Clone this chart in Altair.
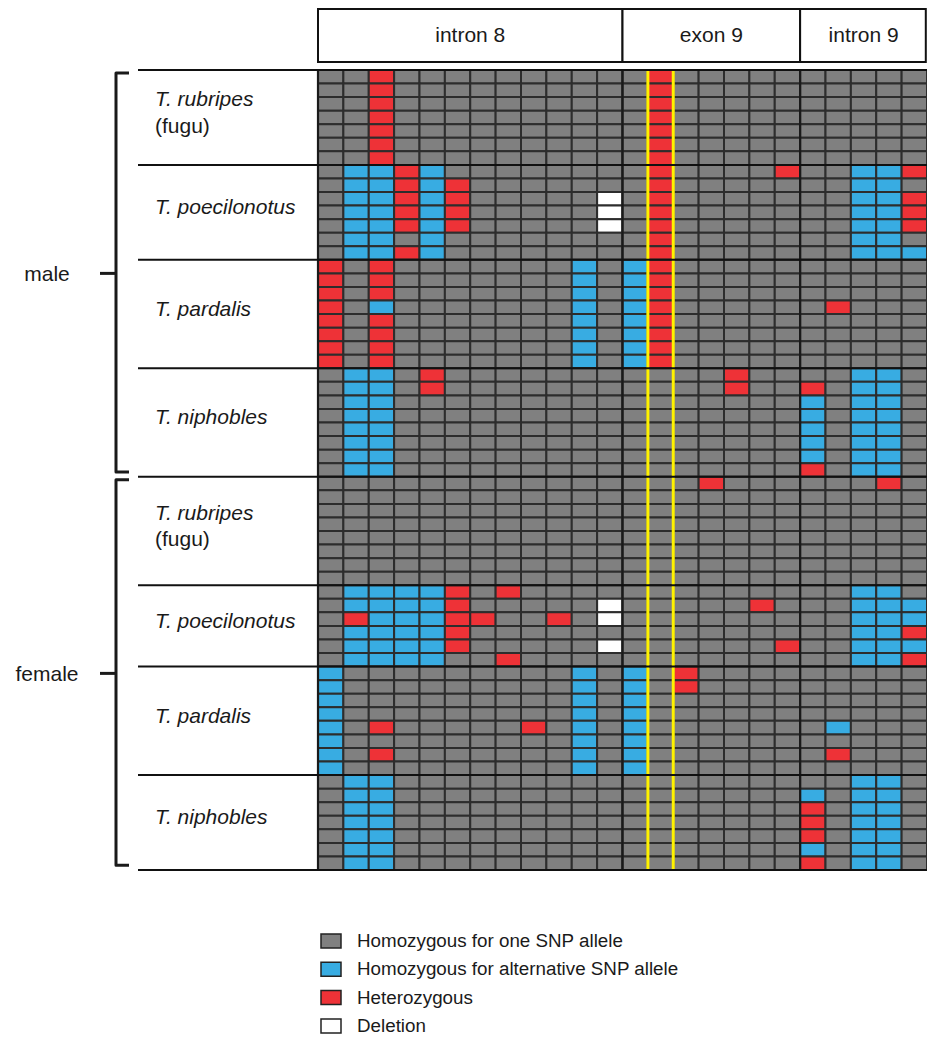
import altair as alt
import pandas as pd

# ------------------------------------------------------------------ data
STATE_CODES = ["G", "B", "R", "W"]
STATE_NAMES = [
    "Homozygous for one SNP allele",
    "Homozygous for alternative SNP allele",
    "Heterozygous",
    "Deletion",
]
STATE_COLORS = ["#808080", "#38ACE2", "#EE3237", "#FFFFFF"]

REGIONS = ["intron 8", "exon 9", "intron 9"]
REGION_NCOLS = [12, 7, 5]
HIGHLIGHT_COL = 14  # 1-based SNP column framed in yellow

SEXES = ["male", "female"]
SPECIES = ["T. rubripes", "T. poecilonotus", "T. pardalis", "T. niphobles"]
SPECIES_NOTE = ["(fugu)", "", "", ""]

# one string per individual: intron 8 | exon 9 | intron 9
male_rubripes = ["GGRGGGGGGGGG|GRGGGGG|GGGGG"] * 7
male_poecilonotus = [
    "GBBRBGGGGGGG|GRGGGGR|GGBBR",
    "GBBRBRGGGGGG|GRGGGGG|GGBBG",
    "GBBRBRGGGGGW|GRGGGGG|GGBBR",
    "GBBRBRGGGGGW|GRGGGGG|GGBBR",
    "GBBRBRGGGGGW|GRGGGGG|GGBBR",
    "GBBGBGGGGGGG|GRGGGGG|GGBBG",
    "GBBRBGGGGGGG|GRGGGGG|GGBBB",
]
male_pardalis = [
    "RGRGGGGGGGBG|BRGGGGG|GGGGG",
    "RGRGGGGGGGBG|BRGGGGG|GGGGG",
    "RGRGGGGGGGBG|BRGGGGG|GGGGG",
    "RGBGGGGGGGBG|BRGGGGG|GRGGG",
    "RGRGGGGGGGBG|BRGGGGG|GGGGG",
    "RGRGGGGGGGBG|BRGGGGG|GGGGG",
    "RGRGGGGGGGBG|BRGGGGG|GGGGG",
    "RGRGGGGGGGBG|BRGGGGG|GGGGG",
]
male_niphobles = [
    "GBBGRGGGGGGG|GGGGRGG|GGBBG",
    "GBBGRGGGGGGG|GGGGRGG|RGBBG",
    "GBBGGGGGGGGG|GGGGGGG|BGBBG",
    "GBBGGGGGGGGG|GGGGGGG|BGBBG",
    "GBBGGGGGGGGG|GGGGGGG|BGBBG",
    "GBBGGGGGGGGG|GGGGGGG|BGBBG",
    "GBBGGGGGGGGG|GGGGGGG|BGBBG",
    "GBBGGGGGGGGG|GGGGGGG|RGBBG",
]
female_rubripes = ["GGGGGGGGGGGG|GGGRGGG|GGGRG"] + ["GGGGGGGGGGGG|GGGGGGG|GGGGG"] * 7
female_poecilonotus = [
    "GBBBBRGRGGGG|GGGGGGG|GGBBG",
    "GBBBBRGGGGGW|GGGGGRG|GGBBB",
    "GRBBBRRGGRGW|GGGGGGG|GGBBB",
    "GBBBBRGGGGGG|GGGGGGG|GGBBR",
    "GBBBBRGGGGGW|GGGGGGR|GGBBB",
    "GBBBBGGRGGGG|GGGGGGG|GGBBR",
]
female_pardalis = [
    "BGGGGGGGGGBG|BGRGGGG|GGGGG",
    "BGGGGGGGGGBG|BGRGGGG|GGGGG",
    "BGGGGGGGGGBG|BGGGGGG|GGGGG",
    "BGGGGGGGGGBG|BGGGGGG|GGGGG",
    "BGRGGGGGRGBG|BGGGGGG|GBGGG",
    "BGGGGGGGGGBG|BGGGGGG|GGGGG",
    "BGRGGGGGGGBG|BGGGGGG|GRGGG",
    "BGGGGGGGGGBG|BGGGGGG|GGGGG",
]
female_niphobles = [
    "GBBGGGGGGGGG|GGGGGGG|GGBBG",
    "GBBGGGGGGGGG|GGGGGGG|BGBBG",
    "GBBGGGGGGGGG|GGGGGGG|RGBBG",
    "GBBGGGGGGGGG|GGGGGGG|RGBBG",
    "GBBGGGGGGGGG|GGGGGGG|RGBBG",
    "GBBGGGGGGGGG|GGGGGGG|BGBBG",
    "GBBGGGGGGGGG|GGGGGGG|RGBBG",
]

GENOTYPES = [
    male_rubripes, male_poecilonotus, male_pardalis, male_niphobles,
    female_rubripes, female_poecilonotus, female_pardalis, female_niphobles,
]

# ------------------------------------------------------------------ tables
NCOL = sum(REGION_NCOLS)
cells, groups = [], []
r = 0
for gi, rows in enumerate(GENOTYPES):
    sex = SEXES[gi // len(SPECIES)]
    si = gi % len(SPECIES)
    start = r
    for line in rows:
        s = line.replace("|", "")
        assert len(s) == NCOL, line
        for c, ch in enumerate(s):
            cells.append(dict(x0=c, x1=c + 1, y0=r, y1=r + 1,
                              state=STATE_NAMES[STATE_CODES.index(ch)]))
        r += 1
    groups.append(dict(sex=sex, species=SPECIES[si], note=SPECIES_NOTE[si],
                       start=start, end=r))
NROW = r
cells = pd.DataFrame(cells)
groups = pd.DataFrame(groups)

# ------------------------------------------------------------------ scales
W, H = 919, 1031                 # plot area (page margin 8px)
GRID_L, GRID_T = 318, 70         # page px of the grid's top-left corner
COLW = (8 + W - GRID_L) / NCOL
ROWH = 800 / NROW
X_MIN = -(GRID_L - 8) / COLW
X_MAX = X_MIN + W / COLW
Y_MIN = -(GRID_T - 8) / ROWH
Y_MAX = Y_MIN + H / ROWH
xs = alt.Scale(domain=[X_MIN, X_MAX], nice=False, zero=False)
ys = alt.Scale(domain=[Y_MIN, Y_MAX], nice=False, zero=False, reverse=True)


def gx(px):  # page px -> column units (for annotation anchors)
    return (px - GRID_L) / COLW


def gy(px):  # page px -> row units
    return (px - GRID_T) / ROWH


def X(f):
    return alt.X(f, type="quantitative", scale=xs, axis=None)


def Y(f):
    return alt.Y(f, type="quantitative", scale=ys, axis=None)


FONT = "Liberation Sans"
INK = "#1a1a1a"

# regions header
reg_start = [sum(REGION_NCOLS[:i]) for i in range(len(REGIONS))]
regions = pd.DataFrame(dict(region=REGIONS, x0=reg_start,
                            x1=[s + n for s, n in zip(reg_start, REGION_NCOLS)]))
regions["xm"] = (regions["x0"] + regions["x1"]) / 2
regions["x1"] = regions["x1"].clip(upper=NCOL - 1.2 / COLW)
regions["top"] = gy(9)
regions["bot"] = gy(62)
regions["ym"] = gy(36)

# ------------------------------------------------------------------ layers
cell_layer = alt.Chart(cells).mark_rect(stroke="#2d2d2d", strokeWidth=2).encode(
    x=X("x0"), x2="x1", y=Y("y0"), y2="y1",
    color=alt.Color(
        "state:N",
        scale=alt.Scale(domain=STATE_NAMES, range=STATE_COLORS),
        legend=alt.Legend(
            title=None, orient="none", legendX=312, legendY=922,
            direction="vertical", symbolType="M-1,-0.7H1V0.7H-1Z",
            symbolSize=400, symbolStrokeColor="#222", symbolStrokeWidth=1.5,
            symbolOpacity=1, labelFontSize=18.8, labelFont=FONT,
            labelColor=INK, labelOffset=15, rowPadding=7.3, padding=0,
            labelLimit=600,
        ),
    ),
)

vlines = pd.DataFrame(dict(x=reg_start, y0=0, y1=NROW))
vline_layer = alt.Chart(vlines).mark_rule(color="#1a1a1a", strokeWidth=2.2).encode(
    x=X("x"), y=Y("y0"), y2="y1")

yellow = pd.DataFrame(dict(x=[HIGHLIGHT_COL - 1, HIGHLIGHT_COL], y0=0, y1=NROW))
yellow_layer = alt.Chart(yellow).mark_rule(color="#FFF200", strokeWidth=3).encode(
    x=X("x"), y=Y("y0"), y2="y1")

bounds = sorted(set(groups["start"].tolist() + [NROW]))
hlines = pd.DataFrame(dict(y=bounds, x0=gx(138), x1=NCOL))
hline_layer = alt.Chart(hlines).mark_rule(color="#111111", strokeWidth=2).encode(
    y=Y("y"), x=X("x0"), x2="x1")

head_box = alt.Chart(regions).mark_rect(fill="white", stroke="#111111", strokeWidth=2).encode(
    x=X("x0"), x2="x1", y=Y("top"), y2="bot")
head_txt = alt.Chart(regions).mark_text(font=FONT, fontSize=21, color=INK,
                                        baseline="middle", align="center").encode(
    x=X("xm"), y=Y("ym"), text="region:N")

lab = groups.copy()
lab["ym"] = (lab["start"] + lab["end"]) / 2 - 0.3
lab["ysp"] = lab["ym"] - (lab["note"] != "") * 0.97
lab["ynote"] = lab["ym"] + 0.97
lab["lx"] = gx(155)
species_txt = alt.Chart(lab).mark_text(font=FONT, fontSize=21, fontStyle="italic",
                                       color=INK, align="left", baseline="middle").encode(
    x=X("lx"), y=Y("ysp"), text="species:N")
note_txt = alt.Chart(lab[lab["note"] != ""]).mark_text(
    font=FONT, fontSize=21, color=INK, align="left", baseline="middle").encode(
    x=X("lx"), y=Y("ynote"), text="note:N")

# brackets
VX, HX, TX, SX = gx(116), gx(129), gx(100), gx(47)
seg, ticks, sexlab = [], [], []
for sex in SEXES:
    g = groups[groups["sex"] == sex]
    s0, s1 = g["start"].min(), g["end"].max()
    top, bot, mid = s0 + 0.22, s1 - 0.35, (s0 + s1) / 2
    for k, (xx, yy) in enumerate([(HX, top), (VX, top), (VX, bot), (HX, bot)]):
        seg.append(dict(sex=sex, k=k, x=xx, y=yy))
    ticks.append(dict(sex=sex, x0=TX, x1=VX, y=mid))
    sexlab.append(dict(sex=sex, x=SX, y=mid + 0.1))
bracket = alt.Chart(pd.DataFrame(seg)).mark_line(
    color="#1a1a1a", strokeWidth=3, strokeJoin="round", strokeCap="butt").encode(
    x=X("x"), y=Y("y"), detail="sex:N", order="k:Q")
tick = alt.Chart(pd.DataFrame(ticks)).mark_rule(color="#1a1a1a", strokeWidth=3).encode(
    x=X("x0"), x2="x1", y=Y("y"))
sex_txt = alt.Chart(pd.DataFrame(sexlab)).mark_text(
    font=FONT, fontSize=21, color=INK, align="center", baseline="middle").encode(
    x=X("x"), y=Y("y"), text="sex:N")

chart = alt.layer(
    cell_layer, vline_layer, yellow_layer, hline_layer, head_box, head_txt,
    species_txt, note_txt, bracket, tick, sex_txt,
).properties(
    width=W, height=H, padding=0,
    autosize=alt.AutoSizeParams(type="none"),
).configure(font=FONT).configure_view(stroke=None)

chart.save("out.html", embed_options={"renderer": "svg", "actions": False})
